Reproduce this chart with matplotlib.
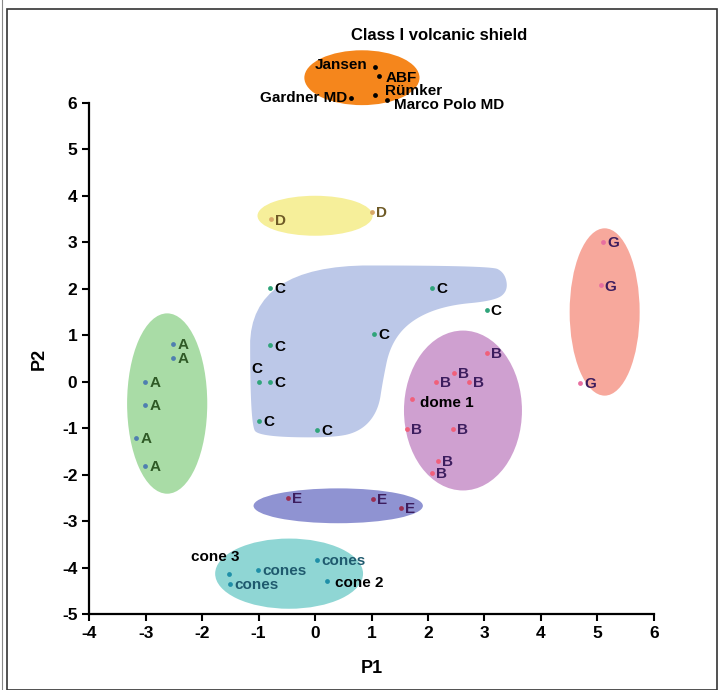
import numpy as np
import matplotlib.pyplot as plt
from matplotlib.patches import Ellipse, Polygon, Rectangle

plt.rcParams['font.family'] = ['Liberation Sans', 'DejaVu Sans']
plt.rcParams['font.weight'] = 'bold'
plt.rcParams['axes.unicode_minus'] = False

# group A
a_x = [-2.51, -2.51, -3.01, -3.01, -3.17, -3.01]
a_y = [0.82, 0.52, 0.0, -0.50, -1.21, -1.81]
a_lab = ['A'] * 6

# group B (plus dome 1)
b_x = [3.04, 2.46, 2.14, 2.73, 1.72, 1.63, 2.44, 2.18, 2.07]
b_y = [0.62, 0.19, 0.0, 0.0, -0.37, -1.01, -1.01, -1.70, -1.96]
b_lab = ['B', 'B', 'B', 'B', 'dome 1', 'B', 'B', 'B', 'B']

# group C
c_x = [-0.80, 2.07, 3.04, 1.04, -0.80, -0.99, -0.80, -0.99, 0.04]
c_y = [2.02, 2.02, 1.55, 1.03, 0.78, 0.0, 0.0, -0.84, -1.03]
c_lab = ['C'] * 9

# group D
d_x = [-0.78, 1.01]
d_y = [3.49, 3.66]
d_lab = ['D', 'D']

# group E
e_x = [-0.48, 1.03, 1.52]
e_y = [-2.50, -2.52, -2.71]
e_lab = ['E', 'E', 'E']

# group G
g_x = [5.10, 5.06, 4.69]
g_y = [3.01, 2.07, -0.02]
g_lab = ['G', 'G', 'G']

# cones
k_x = [-1.52, -1.50, -1.01, 0.04, 0.21]
k_y = [-4.13, -4.35, -4.05, -3.83, -4.28]
k_lab = ['cone 3', 'cones', 'cones', 'cones', 'cone 2']

# Class I volcanic shields
v_x = [1.06, 1.13, 1.06, 1.27, 0.64]
v_y = [6.78, 6.57, 6.16, 6.05, 6.10]
v_lab = ['Jansen', 'ABF', 'Rümker', 'Marco Polo MD', 'Gardner MD']

# outline of the C cluster
c_shape = [(-1.15, 2.50), (3.10, 2.50), (3.36, 2.35), (3.42, 1.96),
           (3.19, 1.74), (2.30, 1.64), (1.68, 1.31), (1.33, 0.78),
           (1.20, 0.02), (1.12, -0.62), (0.83, -1.05), (0.35, -1.21),
           (-0.97, -1.18), (-1.15, -0.95)]


def chaikin(pts, n=4):
    pts = np.asarray(pts, float)
    for _ in range(n):
        nxt = np.roll(pts, -1, axis=0)
        q = 0.75 * pts + 0.25 * nxt
        r = 0.25 * pts + 0.75 * nxt
        pts = np.empty((2 * len(q), 2))
        pts[0::2] = q
        pts[1::2] = r
    return pts


fig = plt.figure(figsize=(7.2, 6.9), dpi=100)
ax = fig.add_axes([0.124, 0.110, 0.784, 0.741])

# cluster ellipses
blobs = [
    ((0.83, 6.54), 2.04, 1.18, '#f5861c'),
    ((-2.62, -0.47), 1.42, 3.88, '#a9dca6'),
    ((0.0, 3.57), 2.04, 0.86, '#f6ef9a'),
    ((2.62, -0.62), 2.09, 3.44, '#cfa0d0'),
    ((5.13, 1.50), 1.24, 3.60, '#f7a89c'),
    ((0.41, -2.67), 3.0, 0.75, '#8f93d2'),
    ((-0.46, -4.13), 2.62, 1.51, '#8fd6d4'),
]
for xy, w, h, col in blobs:
    ax.add_patch(Ellipse(xy, w, h, facecolor=col, edgecolor='none',
                         zorder=1, clip_on=False))

ax.add_patch(Polygon(chaikin(c_shape), closed=True, facecolor='#bcc8e8',
                     edgecolor='none', zorder=1))

groups = [
    (a_x, a_y, a_lab, '#4f7fb0', '#2f5a26'),
    (b_x, b_y, b_lab, '#f0607a', '#3c1d5e'),
    (c_x, c_y, c_lab, '#2fa47a', 'black'),
    (d_x, d_y, d_lab, '#d8a868', '#6e5a26'),
    (e_x, e_y, e_lab, '#9c2f52', '#3c1d5e'),
    (g_x, g_y, g_lab, '#e86fa0', '#3c1d5e'),
    (k_x, k_y, k_lab, '#1f8fa8', '#1f5a6e'),
    (v_x, v_y, v_lab, 'black', 'black'),
]

# label placement tweaks (offset in points, alignment)
special = {
    'Jansen': ((-5, 1), 'right'),
    'Gardner MD': ((-3, 0), 'right'),
    'ABF': ((5, -1), 'left'),
    'Rümker': ((7, 3), 'left'),
    'Marco Polo MD': ((5, -3), 'left'),
    'dome 1': ((6, -3), 'left'),
    'cone 3': ((-10, 12), 'center'),
    'cone 2': ((6, -2), 'left'),
}

for xs, ys, labs, dot, txt in groups:
    ax.scatter(xs, ys, s=12, color=dot, zorder=3, clip_on=False,
               linewidths=0)
    for i, (x, y, lab) in enumerate(zip(xs, ys, labs)):
        off, ha = special.get(lab, ((3, -1), 'left'))
        col = txt
        if lab in ('cone 3', 'cone 2', 'dome 1'):
            col = 'black'
        if labs is c_lab and i == 5:
            off, ha = (-1.5, 9), 'center'
        ax.annotate(lab, (x, y), xytext=off, textcoords='offset points',
                    ha=ha, va='center', fontsize=11, color=col,
                    fontweight='bold', zorder=4, annotation_clip=False)

ax.text(2.2, 7.45, 'Class I volcanic shield', ha='center', va='center',
        fontsize=12, fontweight='bold', clip_on=False)

ax.set_xlim(-4, 6)
ax.set_ylim(-5, 6)
ax.set_xticks(range(-4, 7))
ax.set_yticks(range(-5, 7))
for s in ['top', 'right']:
    ax.spines[s].set_visible(False)
for s in ['left', 'bottom']:
    ax.spines[s].set_linewidth(1.6)
ax.tick_params(direction='out', length=5, width=1.5, labelsize=12.5)
for t in ax.get_xticklabels() + ax.get_yticklabels():
    t.set_fontweight('bold')
ax.set_xlabel('P1', fontsize=13, fontweight='bold', labelpad=14)
ax.set_ylabel('P2', fontsize=13, fontweight='bold', labelpad=10)

# frame round the whole figure
fig.patches.append(Rectangle((0.010, 0.0), 0.986, 0.987, transform=fig.transFigure,
                             fill=False, edgecolor='#333333', linewidth=1.2))
fig.add_artist(plt.Line2D([0.003, 0.003], [0, 1], transform=fig.transFigure,
                          color='#888888', linewidth=0.8))

fig.savefig('out.png', dpi=100)
